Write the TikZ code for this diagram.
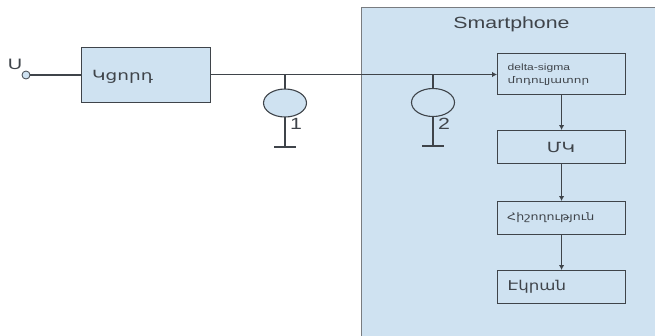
\documentclass[tikz,border=0pt]{standalone}
\usepackage{graphicx}
\usepackage{fontspec}
\setmainfont{Liberation Sans}
\newfontfamily\arm{DejaVu Sans}
\usetikzlibrary{arrows.meta,shapes.geometric}
\definecolor{fillblue}{HTML}{CFE2F1}
\definecolor{ink}{HTML}{3F444A}
\newcommand{\wideText}[1]{\scalebox{1.42}[1.08]{#1}}
\tikzset{
  x=1pt,y=-1pt,
  wire/.style={draw=ink,line width=1.1pt},
  flow/.style={wire,-{Latex[length=5pt,width=5.5pt]}},
  block/.style={draw=ink,line width=1.1pt,fill=fillblue,minimum width=128pt,inner sep=0pt,anchor=north west,text=ink},
  valve/.style={draw=ink,line width=1.1pt,fill=fillblue,ellipse,minimum width=43pt,minimum height=28pt,inner sep=0pt},
  lbl/.style={inner sep=0pt,text=ink},
}
\begin{document}
\begin{tikzpicture}
\useasboundingbox (0,0) rectangle (655,335);
\path[fill=white] (0,0) rectangle (655,335);
\node[draw=ink!70,line width=0.9pt,fill=fillblue,anchor=north west,minimum width=300pt,minimum height=335pt,inner sep=0pt] (phone) at (361,7) {};
\path[clip,overlay] (0,0) rectangle (655,335);
\node[lbl,font=\fontsize{15}{17}\selectfont] (ptitle) at (511.5,24) {\wideText{Smartphone}};
\node[block,minimum width=129pt,minimum height=55pt] (coupler) at (81,47) {};
\node[lbl,font=\arm\fontsize{13}{15}\selectfont,anchor=west] (couplertxt) at (92,77) {\wideText{Կցորդ}};
\node[draw=ink,line width=0.8pt,fill=fillblue,circle,minimum size=8pt,inner sep=0pt] (u) at (26,75) {};
\node[lbl,font=\fontsize{14}{16}\selectfont] (ulabel) at (15,64) {\wideText{U}};
\node[block,minimum height=41pt] (dsm) at (497,53) {};
\node[lbl,font=\fontsize{8.5}{11.5}\selectfont,anchor=west,align=left] (dsmtxt) at (507.5,74.5) {\wideText{delta-sigma}\\[1pt]\wideText{\arm մոդուլյատոր}};
\node[block,minimum height=33pt] (mk) at (497,130) {};
\node[lbl,font=\arm\fontsize{13}{15}\selectfont] (mktxt) at (561,147) {\wideText{ՄԿ}};
\node[block,minimum height=33pt] (mem) at (497,201) {};
\node[lbl,font=\arm\fontsize{9.5}{11}\selectfont,anchor=west] (memtxt) at (507,218) {\scalebox{1.33}[1.08]{Հիշողություն}};
\node[block,minimum height=33pt] (screen) at (497,270) {};
\node[lbl,font=\arm\fontsize{12.5}{15}\selectfont,anchor=west] (screentxt) at (507.5,287) {\scalebox{1.33}[1.08]{Էկրան}};
\coordinate (j1) at (285,74.5);
\coordinate (j2) at (433,74.5);
\coordinate (g1) at (285,147);
\coordinate (g2) at (433,146);
\draw[wire] (u) -- (coupler.west |- u);
\draw[flow] (coupler.east |- j1) -- (j1) -- (j2) -- (dsm.west |- j2);
\draw[wire] (j1) -- (g1);
\draw[wire] (j2) -- (g2);
\draw[wire] ([xshift=-11pt]g1) -- ([xshift=11pt]g1);
\draw[wire] ([xshift=-11pt]g2) -- ([xshift=11pt]g2);
\node[valve] (v1) at (285,103) {};
\node[valve] (v2) at (433,102.5) {};
\node[lbl,font=\fontsize{15}{17}\selectfont] (n1) at (296,124) {\wideText{1}};
\node[lbl,font=\fontsize{15}{17}\selectfont] (n2) at (444,124) {\wideText{2}};
\draw[flow] (dsm) -- (mk);
\draw[flow] (mk) -- (mem);
\draw[flow] (mem) -- (screen);
\end{tikzpicture}
\end{document}
